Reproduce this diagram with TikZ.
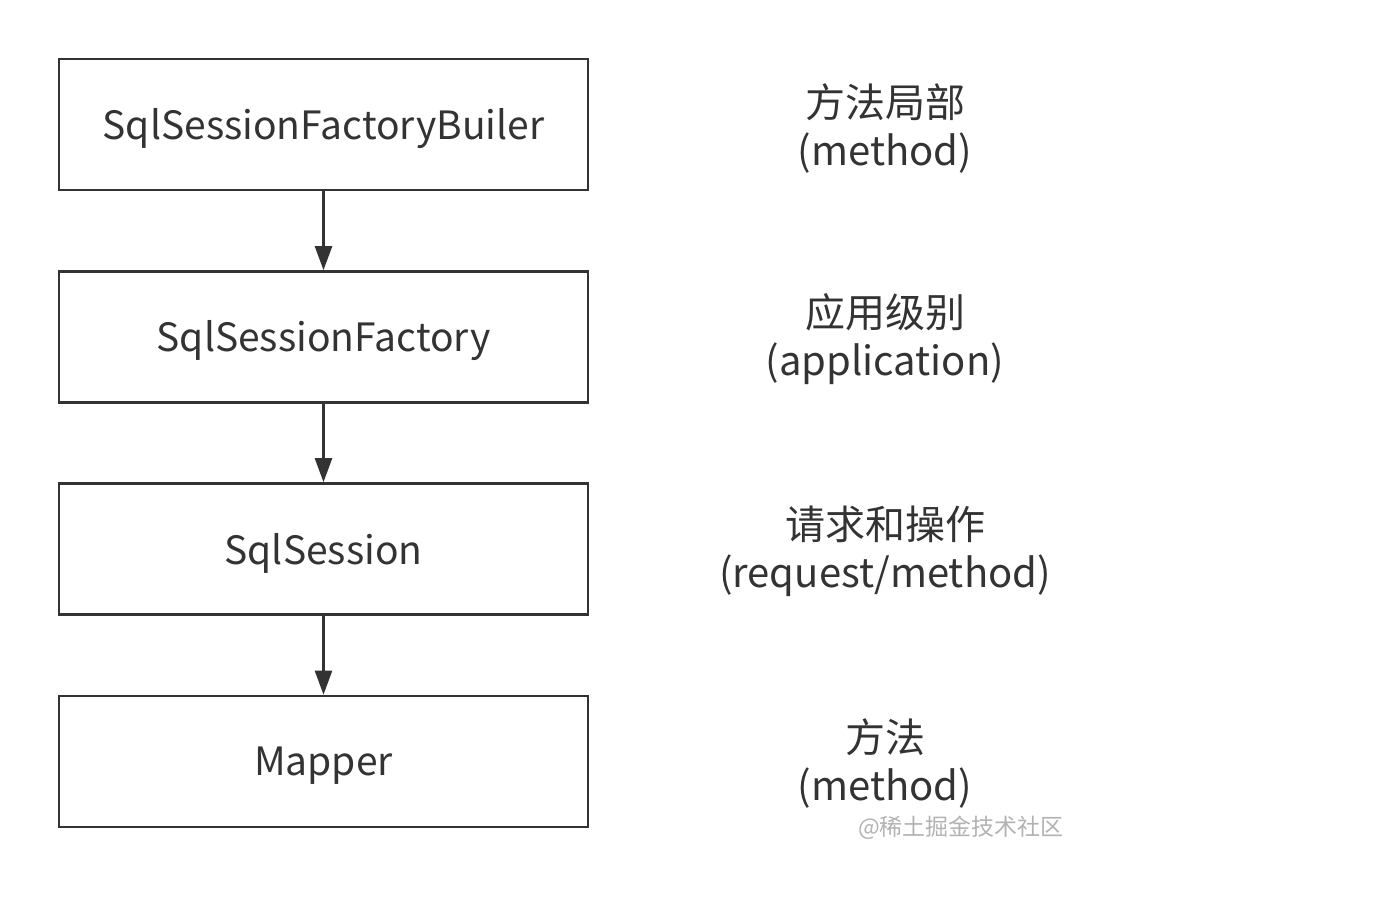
\documentclass[tikz,border=0pt]{standalone}
\usepackage{fontspec}
\setmainfont{Noto Sans CJK SC}
\usetikzlibrary{arrows.meta}
\definecolor{linec}{HTML}{333333}
\definecolor{txt}{HTML}{333333}
\tikzset{
  box/.style={draw=linec, line width=2.6pt, minimum width=529pt, minimum height=131pt, inner sep=0pt, text=txt, font=\fontsize{39}{46}\selectfont},
  boxtext/.style={inner sep=0pt, text=txt, font=\fontsize{39}{46}\selectfont},
  conn/.style={draw=linec, line width=2.4pt, -{Triangle[length=24pt,width=17pt]}},
  lab/.style={align=center, text=txt, font=\fontsize{40}{48}\selectfont},
  wm/.style={text=black!30, font=\fontsize{23}{26}\selectfont}
}
\begin{document}
\begin{tikzpicture}[x=1pt,y=-1pt]
\useasboundingbox (0,0) rectangle (1377,910);
\node[box] (b1) at (323.5,124.5) {};
\node[box] (b2) at (323.5,337) {};
\node[box] (b3) at (323.5,549) {};
\node[box] (b4) at (323.5,761.5) {};
\node[boxtext] (t1) at ([yshift=-4pt]b1.center) {SqlSessionFactoryBuiler};
\node[boxtext] (t2) at ([yshift=-4pt]b2.center) {SqlSessionFactory};
\node[boxtext] (t3) at ([yshift=-4pt]b3.center) {SqlSession};
\node[boxtext] (t4) at ([yshift=-4pt]b4.center) {Mapper};
\draw[conn] (b1) -- (b2);
\draw[conn] (b2) -- (b3);
\draw[conn] (b3) -- (b4);
\node[lab] (l1) at (885,128) {方法局部\\(method)};
\node[lab] (l2) at (885,339) {应用级别\\(application)};
\node[lab] (l3) at (885,551) {请求和操作\\(request/method)};
\node[lab] (l4) at (885,763) {方法\\(method)};
\node[wm] (w) at (961,828) {@稀土掘金技术社区};
\end{tikzpicture}
\end{document}
